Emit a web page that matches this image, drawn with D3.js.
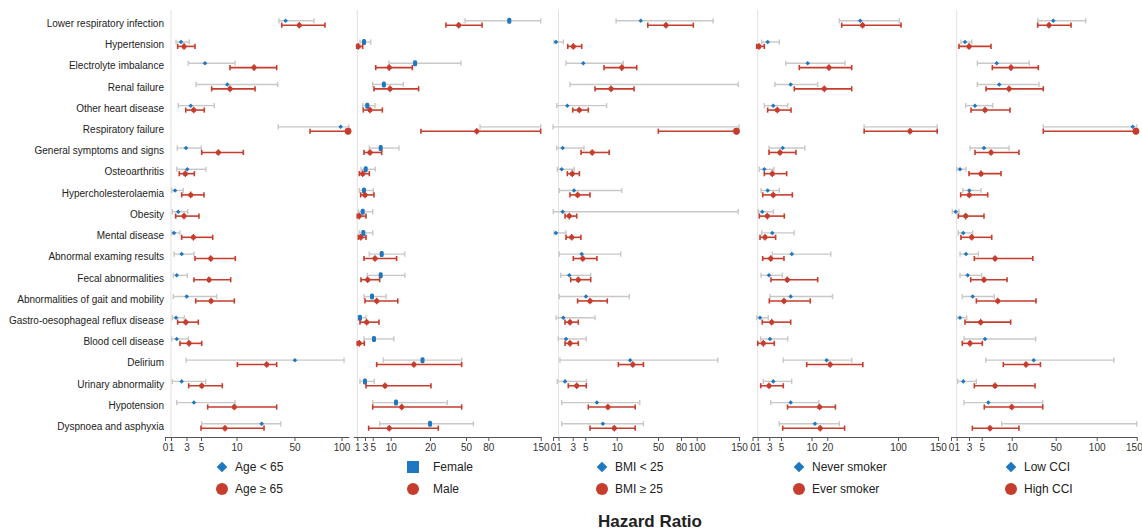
<!DOCTYPE html>
<html>
<head>
<meta charset="utf-8">
<style>
body { margin: 0; background: #fff; }
text { font-family: Arial, "Liberation Sans", sans-serif; fill: #222; }
.row-label { font-size: 10px; }
.axis text { font-size: 10px; fill: #333; }
.axis path, .axis line { stroke: #555; }
.legend text { font-size: 12px; }
.refline { stroke: #e2e2e2; stroke-width: 1px; }
.ci-a { stroke: #c8c8c8; stroke-width: 1.4px; }
.ci-b { stroke: #c63d2d; stroke-width: 1.6px; }
</style>
</head>
<body>
<script src="https://d3js.org/d3.v7.min.js"></script>
<script>

var rowLabels = ["Lower respiratory infection", "Hypertension", "Electrolyte imbalance",
  "Renal failure", "Other heart disease", "Respiratory failure", "General symptoms and signs",
  "Osteoarthritis", "Hypercholesterolaemia", "Obesity", "Mental disease",
  "Abnormal examing results", "Fecal abnormalities", "Abnormalities of gait and mobility",
  "Gastro-oesophageal reflux disease", "Blood cell disease", "Delirium",
  "Urinary abnormality", "Hypotension", "Dyspnoea and asphyxia"];

// each entry: [lower CI, hazard ratio, upper CI]
var ageYoung = [[39.3,43.9,70.7],[1.65,2.29,3.39],[3.25,5.56,9.79],[4.31,8.7,38.4],[1.94,3.58,6.87],
  [38.8,99.1,108],[1.81,2.94,5.04],[1.74,3.11,5.7],[1.09,1.52,2.59],[1.17,1.94,3.17],
  [1.09,1.39,2.16],[1.39,2.38,4.03],[1.3,1.74,3.11],[1.3,3.03,7.2],[1.17,1.65,2.72],
  [1.09,1.74,3.25],[2.94,50.5,102.7],[1.17,2.38,5.66],[1.74,4.03,9.79],[5.1,27.4,40.5]];
var ageOld = [[41.2,55.1,82.4],[1.86,2.68,4.17],[9.08,22.1,37.7],[6.5,9.08,22.8],[2.9,3.99,5.46],
  [66.5,107,108],[5.1,7.44,14.7],[2.07,2.85,4.08],[2.38,3.58,5.42],[1.6,2.68,4.72],
  [2.38,3.95,6.65],[4.17,6.37,9.83],[4.03,6.13,9.18],[4.27,6.41,9.69],[1.86,2.9,4.63],
  [2.16,3.35,5.1],[10.6,30.8,37.7],[3.3,5.1,8.0],[5.94,9.69,37.7],[5.0,8.38,29.0]];

var female = [[49.2,108,150],[1.7,2.74,4.48],[9.53,16.2,45.8],[5.0,8.1,13.2],[2.4,3.6,5.64],
  [68.9,null,150],[4.12,7.22,12.1],[1.96,3.18,5.72],[1.52,2.74,5.17],[1.26,2.4,5.0],
  [1.52,2.56,5.0],[4.12,7.5,13.6],[3.6,7.22,13.6],[2.74,4.82,8.7],[1.26,1.7,3.26],
  [2.74,5.36,10.8],[7.94,18.1,46.4],[1.7,3.0,5.44],[5.0,11.35,34.4],[6.94,20,59.9]];
var male = [[33.3,43.9,71.6],[0.85,1.26,2.4],[5.83,9.6,15.5],[5.36,9.8,17.1],[2.56,4.3,7.68],
  [17.7,64.5,150],[2.74,4.3,7.5],[1.52,2.4,4.12],[1.88,3.0,5.36],[1.0,1.52,3.26],
  [1.26,1.88,3.26],[2.74,5.64,11.5],[1.96,3.69,6.94],[3.0,6.1,11.8],[1.7,3.43,6.74],
  [1.0,1.52,2.82],[6.1,15.9,46.4],[3.26,8.41,20.8],[5.0,12.8,46.4],[3.95,9.6,26.9]];

var bmiLow = [[9.9,33.3,119.5],[0.18,0.55,1.68],[2.06,4.68,16.4],[2.62,null,149],[0.67,2.24,8.4],
  [0,null,150],[0.67,1.59,4.79],[0.78,1.45,3.25],[1.11,3.21,14.9],[0.05,1.59,149],
  [0.18,0.55,2.06],[1.11,4.43,13.9],[1.31,2.52,5.86],[1.11,5.11,22.2],[0.55,1.68,6.55],
  [0.96,2.06,5.16],[1.2,23.0,125],[0.78,1.92,5.2],[1.45,6.85,32.3],[1.45,7.8,35.9]];
var bmiHigh = [[40.1,60.4,95.7],[2.3,3.1,4.43],[7.98,14.9,29.4],[6.55,9.1,26.8],[3.0,4.05,5.48],
  [50.4,147,147],[4.32,6.1,8.8],[2.24,2.94,4.06],[2.62,3.78,5.75],[1.92,2.52,3.63],
  [2.06,2.86,4.3],[3.1,4.59,6.85],[2.72,3.89,5.86],[3.78,5.75,8.5],[1.92,2.62,3.89],
  [1.92,2.62,3.89],[11.6,25.6,35.9],[2.38,3.63,5.16],[5.48,8.6,27.9],[5.75,9.62,27.9]];

var neverSmoker = [[33.6,57.2,101.6],[1.69,2.72,4.71],[5.77,9.38,40.1],[3.97,6.59,13.9],[2.14,3.68,6.1],
  [61.7,null,149],[2.95,5.28,8.9],[1.28,2.14,3.8],[1.57,2.72,4.71],[1.1,1.79,3.68],
  [1.69,3.51,7.15],[3.51,6.77,23.9],[1.57,2.95,5.21],[3.12,6.59,25.9],[0.81,1.4,2.83],
  [1.52,3.12,6.1],[5.38,19.6,47.6],[1.97,3.68,6.75],[3.24,6.59,14.6],[4.71,12.2,33.6]];
var everSmoker = [[36.3,59.9,103.8],[0.81,1.22,2.14],[8.0,21.9,47.6],[7.18,18.1,47.6],[2.72,4.37,6.64],
  [61.7,115,149],[2.95,4.83,7.45],[2.14,3.51,5.93],[1.86,3.68,6.86],[1.28,2.66,5.54],
  [1.4,2.26,4.08],[1.86,3.24,5.49],[3.29,6.03,13.9],[3.0,5.49,9.8],[1.79,3.41,6.59],
  [1.0,1.97,3.85],[9.21,23.2,60.2],[1.52,2.95,5.38],[6.07,15.1,29.2],[5.28,15.5,39.6]];

var lowCCI = [[33.6,47.8,86.6],[1.69,2.35,3.43],[4.31,7.5,26],[4.31,7.93,34.8],[2.46,3.95,6.83],
  [38.7,145,150],[3.16,5.38,9.55],[1.0,1.54,2.51],[1.98,3.05,4.89],[0.23,0.82,1.37],
  [1.26,2.07,3.58],[1.54,2.51,4.47],[1.54,2.79,5.0],[1.91,3.58,7.1],[1.0,1.54,2.63],
  [2.19,5.55,31.8],[5.67,30,121.6],[1.16,2.07,4.16],[2.19,6.1,38.2],[8.33,null,150]];
var highCCI = [[33.6,43.9,68.7],[1.37,3.0,6.55],[6.77,9.88,34.2],[5.72,9.55,38.7],[3.32,5.55,9.72],
  [38.7,149,150],[3.95,6.55,16.6],[3.0,4.9,8.22],[1.65,3.05,6.0],[1.26,2.46,5.38],
  [1.69,3.43,6.67],[3.84,7.22,29.2],[3.27,5.38,9.22],[4.16,7.67,32.1],[2.35,4.84,9.83],
  [1.91,3.16,5.1],[8.6,23,36.1],[3.84,7.22,31.2],[5.43,10,38.2],[3.53,6.38,16.6]];

var ageTicks = [0, 1, 3, 5, 10, 50, 100];
var sexTicks = [1, 3, 5, 10, 20, 50, 80, 150];
var bmiTicks = [0, 1, 3, 5, 10, 50, 80, 100, 150];
var smokeTicks = [0, 1, 3, 5, 10, 20, 100, 150];
var cciTicks = [0, 1, 3, 5, 10, 50, 100, 150];

var legendA = ["Age < 65", "Female", "BMI < 25", "Never smoker", "Low CCI"];
var legendB = ["Age \u2265 65", "Male", "BMI \u2265 25", "Ever smoker", "High CCI"];

// layout: broken axis, each panel has its own piecewise scale
var panels = [
  {a: ageYoung, b: ageOld, ticks: ageTicks, shapeA: "diamond",
   dom: [0, 1, 3, 5, 10, 50, 100, 108], rng: [165, 171, 186.5, 201, 236.5, 294.5, 341.5, 349], legX: 222},
  {a: female, b: male, ticks: sexTicks, shapeA: "square",
   dom: [0, 1, 3, 5, 10, 20, 50, 80, 150], rng: [353.3, 357.3, 365, 372.7, 390.7, 430, 466, 488.3, 540.7], legX: 413},
  {a: bmiLow, b: bmiHigh, ticks: bmiTicks, shapeA: "diamond",
   dom: [0, 1, 3, 5, 10, 50, 80, 100, 150], rng: [553, 558.5, 572.7, 585.3, 616.7, 658, 681, 696.7, 739], legX: 602},
  {a: neverSmoker, b: everSmoker, ticks: smokeTicks, shapeA: "diamond",
   dom: [0, 1, 3, 5, 10, 20, 100, 150], rng: [752.5, 757.7, 769.3, 781, 811.5, 827.3, 898, 938], legX: 799},
  {a: lowCCI, b: highCCI, ticks: cciTicks, shapeA: "diamond",
   dom: [0, 1, 3, 5, 10, 50, 100, 150], rng: [951, 956.7, 969, 981.7, 1011.7, 1055.7, 1096.7, 1136.7], legX: 1011}
];

var width = 1142, height = 531;
var blue = "#1e78c0", red = "#c63d2d";
var plotTop = 10, axisY = 437;

var svg = d3.select("body").append("svg")
    .attr("width", width)
    .attr("height", height);

var y = d3.scalePoint()
    .domain(rowLabels)
    .range([23, 426]);

// row labels
svg.append("g").selectAll("text")
    .data(rowLabels)
    .enter().append("text")
    .attr("class", "row-label")
    .attr("x", 164)
    .attr("y", function(d) { return y(d) + 0.5; })
    .attr("dy", "0.35em")
    .attr("text-anchor", "end")
    .text(function(d) { return d; });

var capH = 2.6;

panels.forEach(function(p, i) {
  var x = d3.scaleLinear().domain(p.dom).range(p.rng).clamp(true);
  var g = svg.append("g");

  g.append("line")
      .attr("class", "refline")
      .attr("x1", x(1)).attr("x2", x(1))
      .attr("y1", plotTop).attr("y2", axisY);

  var ax = g.append("g")
      .attr("class", "axis")
      .attr("transform", "translate(0," + axisY + ")")
      .call(d3.axisBottom(x).tickValues(p.ticks).tickSize(4).tickSizeOuter(0)
        .tickFormat(d3.format("d")));
  if (i === panels.length - 1) {
    // keep the last label inside the page
    ax.selectAll(".tick:last-of-type text").attr("text-anchor", "end").attr("dx", "0.55em");
  }

  function drawSeries(data, cls, off, isA) {
    var rows = g.append("g").selectAll("g")
        .data(data)
        .enter().append("g")
        .attr("transform", function(d, j) { return "translate(0," + (y(rowLabels[j]) + off) + ")"; });

    rows.append("line").attr("class", cls)
        .attr("x1", function(d) { return x(d[0]); })
        .attr("x2", function(d) { return x(d[2]); });
    rows.append("line").attr("class", cls)
        .attr("x1", function(d) { return x(d[0]); }).attr("x2", function(d) { return x(d[0]); })
        .attr("y1", -capH).attr("y2", capH);
    rows.append("line").attr("class", cls)
        .attr("x1", function(d) { return x(d[2]); }).attr("x2", function(d) { return x(d[2]); })
        .attr("y1", -capH).attr("y2", capH);

    var pts = rows.filter(function(d) { return d[1] != null; });
    if (isA) {
      if (p.shapeA === "square") {
        pts.append("rect")
            .attr("x", function(d) { return x(d[1]) - 2; })
            .attr("y", -3).attr("width", 4).attr("height", 6)
            .attr("rx", 1.5)
            .attr("fill", blue);
      } else {
        pts.append("path")
            .attr("d", d3.symbol(d3.symbolDiamond2).size(13))
            .attr("transform", function(d) { return "translate(" + x(d[1]) + ",0)"; })
            .attr("fill", blue);
      }
    } else {
      pts.append("circle")
          .attr("cx", function(d) { return x(d[1]); })
          .attr("r", function(d) { return d[1] >= p.dom[p.dom.length - 1] - 4 ? 3.4 : 2.5; })
          .attr("fill", red);
      pts.append("line")
          .attr("x1", function(d) { return x(d[1]); }).attr("x2", function(d) { return x(d[1]); })
          .attr("y1", -3.3).attr("y2", 3.3)
          .attr("stroke", red).attr("stroke-width", 1.3);
    }
  }

  drawSeries(p.a, "ci-a", -2.2, true);
  drawSeries(p.b, "ci-b", 2.2, false);

  // legend
  var lg = svg.append("g").attr("class", "legend");
  if (p.shapeA === "square") {
    lg.append("rect")
        .attr("x", p.legX - 6).attr("y", 467 - 6)
        .attr("width", 12).attr("height", 12)
        .attr("fill", blue);
  } else {
    lg.append("path")
        .attr("d", d3.symbol(d3.symbolDiamond2).size(72))
        .attr("transform", "translate(" + p.legX + ",467)")
        .attr("fill", blue);
  }
  lg.append("circle")
      .attr("cx", p.legX).attr("cy", 489).attr("r", 6)
      .attr("fill", red);
  lg.append("text")
      .attr("x", p.legX + (p.shapeA === "square" ? 20 : 13)).attr("y", 467).attr("dy", "0.35em")
      .text(legendA[i]);
  lg.append("text")
      .attr("x", p.legX + (p.shapeA === "square" ? 20 : 13)).attr("y", 489).attr("dy", "0.35em")
      .text(legendB[i]);
});

svg.append("text")
    .attr("x", 650)
    .attr("y", 521)
    .attr("dy", "0.35em")
    .attr("text-anchor", "middle")
    .style("font-size", "17px")
    .style("font-weight", "bold")
    .text("Hazard Ratio");

</script>
</body>
</html>
